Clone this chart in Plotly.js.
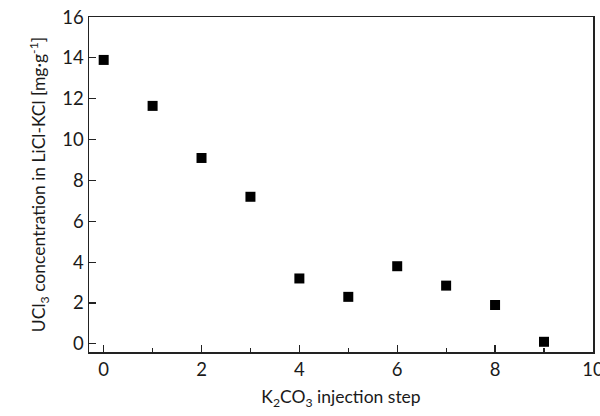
<!DOCTYPE html>
<html><head><meta charset="utf-8">
<script src="https://cdn.plot.ly/plotly-3.0.1.min.js"></script>
<style>html,body{margin:0;padding:0;background:#fff}#c{width:600px;height:416px}</style>
</head><body><div id="c"></div>
<script>
const injectionStep = [0, 1, 2, 3, 4, 5, 6, 7, 8, 9];
const uclConcentration = [13.9, 11.65, 9.1, 7.2, 3.2, 2.3, 3.8, 2.85, 1.9, 0.1];
const xTickVals = [0, 2, 4, 6, 8, 10];
const yTickVals = [0, 2, 4, 6, 8, 10, 12, 14, 16];

const font = "Lato, 'Open Sans', sans-serif";
Plotly.newPlot('c', [{
  x: injectionStep, y: uclConcentration, type: 'scatter', mode: 'markers',
  marker: {symbol: 'square', size: 10, color: '#000'}
}], {
  width: 600, height: 416,
  margin: {l: 89, r: 7, t: 17, b: 64},
  paper_bgcolor: '#fff', plot_bgcolor: '#fff',
  showlegend: false,
  font: {family: font, color: '#1a1a1a', size: 17},
  xaxis: {
    range: [-0.3, 10.002], tickvals: xTickVals, ticks: 'inside', ticklen: 7, tickwidth: 1.2, tickcolor: '#222',
    ticklabeloverflow: 'allow',
    showline: true, mirror: true, linecolor: '#222', linewidth: 1.5, showgrid: false, zeroline: false,
    tickfont: {size: 18.5, family: font},
    minor: {dtick: 1, tick0: 0, ticks: 'inside', ticklen: 4, tickcolor: '#222', showgrid: false},
    title: {text: 'K<sub>2</sub>CO<sub>3</sub> injection step', font: {size: 17.5, family: font}, standoff: 12}
  },
  yaxis: {
    range: [-0.4, 16.002], tickvals: yTickVals, ticks: 'inside', ticklen: 7, tickwidth: 1.2, tickcolor: '#222',
    ticklabeloverflow: 'allow',
    showline: true, mirror: true, linecolor: '#222', linewidth: 1.5, showgrid: false, zeroline: false,
    tickfont: {size: 18.5, family: font},
    title: {text: 'UCl<sub>3</sub> concentration in LiCl-KCl [mg·g<sup>-1</sup>]', font: {size: 17.5, family: font}, standoff: 12}
  }
}, {staticPlot: true});
</script></body></html>
